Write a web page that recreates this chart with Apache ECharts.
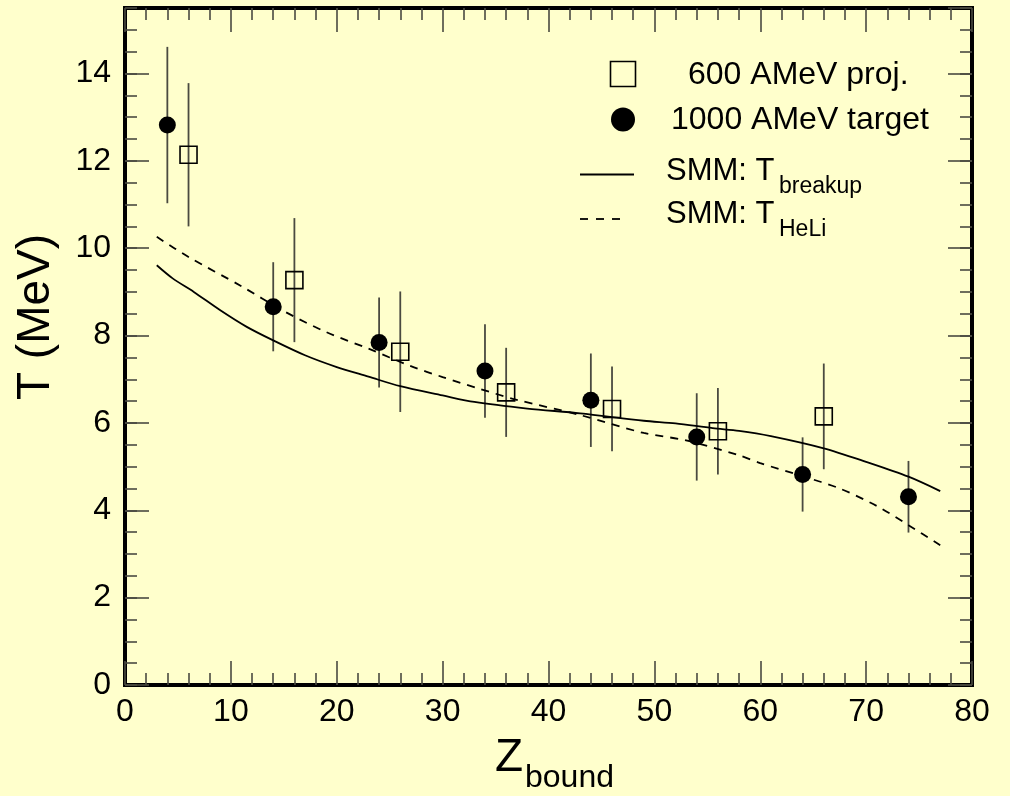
<!DOCTYPE html>
<html>
<head>
<meta charset="utf-8">
<script src="https://cdn.jsdelivr.net/npm/echarts@6/dist/echarts.min.js"></script>
<style>html,body{margin:0;padding:0;background:#ffffcc;}#chart{width:1010px;height:796px;}</style>
</head>
<body>
<div id="chart"></div>
<script>
// ---- data ----
const projZ   = [6, 16, 26, 36, 46, 56, 66];
const projT   = [12.14, 9.27, 7.63, 6.70, 6.32, 5.81, 6.15];
const projErr = [1.64, 1.42, 1.38, 1.02, 0.97, 0.99, 1.21];

const targZ   = [4, 14, 24, 34, 44, 54, 64, 74];
const targT   = [12.82, 8.66, 7.84, 7.19, 6.52, 5.68, 4.82, 4.31];
const targErr = [1.79, 1.02, 1.03, 1.07, 1.07, 1.0, 0.85, 0.82];

const breakupZ = [3, 4.5, 6.5, 9, 11.5, 14, 17, 20, 23, 26, 30, 33, 38, 43, 49, 52, 55.5, 58, 61, 66, 70, 74, 77];
const breakupT = [9.61, 9.31, 9.0, 8.58, 8.20, 7.89, 7.55, 7.28, 7.06, 6.84, 6.63, 6.48, 6.33, 6.22, 6.05, 5.99, 5.88, 5.82, 5.70, 5.42, 5.11, 4.77, 4.44];

const heliZ = [3, 6, 11, 15, 19, 23, 27, 30, 33.5, 37, 43, 49, 53, 58, 60, 64, 67.5, 71, 74, 77];
const heliT = [10.26, 9.80, 9.13, 8.56, 8.08, 7.70, 7.30, 7.05, 6.78, 6.53, 6.18, 5.77, 5.60, 5.26, 5.08, 4.78, 4.50, 4.10, 3.66, 3.20];

const xTicks = {min: 0, max: 80, interval: 10};
const yTicks = {min: 0, max: 15.5, major: 2, minor: 0.5};

const legendLabels = ['600 AMeV proj.', '1000 AMeV target', 'SMM: T', 'SMM: T'];
const legendSubs = ['breakup', 'HeLi'];
const xTitle = ['Z', 'bound'];
const yTitle = 'T (MeV)';

// ---- chart ----
const FONT = '"Liberation Sans", Arial, Helvetica, sans-serif';
const tickColor = '#4a4a40';
const chart = echarts.init(document.getElementById('chart'), null, {renderer: 'canvas'});

function xAxisDef(pos, labels) {
  return {
    type: 'value', position: pos, min: xTicks.min, max: xTicks.max, interval: xTicks.interval,
    axisLine: {show: true, onZero: false, lineStyle: {color: '#000', width: 4}},
    axisTick: {show: true, inside: true, length: 24, lineStyle: {color: tickColor, width: 1.6}},
    minorTick: {show: true, splitNumber: 5, length: 12, lineStyle: {color: tickColor, width: 1.6}},
    axisLabel: {show: labels, fontSize: 32, color: '#000', fontFamily: FONT, margin: 11},
    splitLine: {show: false}, minorSplitLine: {show: false}
  };
}
function yAxisDef(pos, interval, len, labels, line) {
  return {
    type: 'value', position: pos, min: yTicks.min, max: yTicks.max, interval: interval,
    axisLine: {show: line, onZero: false, lineStyle: {color: '#000', width: 4}},
    axisTick: {show: true, inside: true, length: len, lineStyle: {color: tickColor, width: 1.6}},
    axisLabel: {show: labels, fontSize: 32, color: '#000', fontFamily: FONT, margin: 14, showMaxLabel: false},
    splitLine: {show: false}
  };
}

function errData(xs, ys, es) {
  return xs.map((x, i) => [x, ys[i] - es[i], ys[i] + es[i]]);
}
function errSeries(xs, ys, es) {
  return {
    type: 'custom', xAxisIndex: 0, yAxisIndex: 0, z: 2, silent: true,
    data: errData(xs, ys, es),
    encode: {x: 0, y: [1, 2]},
    renderItem: function (params, api) {
      const p1 = api.coord([api.value(0), api.value(1)]);
      const p2 = api.coord([api.value(0), api.value(2)]);
      return {type: 'line', shape: {x1: p1[0], y1: p1[1], x2: p2[0], y2: p2[1]},
              style: {stroke: '#4a4a40', lineWidth: 1.8}};
    }
  };
}

const option = {
  backgroundColor: '#ffffcc',
  animation: false,
  grid: {left: 125, right: 38, top: 8, bottom: 111, containLabel: false, outerBoundsMode: 'none',
         show: true, borderColor: '#000', borderWidth: 4, backgroundColor: 'transparent'},
  xAxis: [xAxisDef('bottom', true), xAxisDef('top', false)],
  yAxis: [
    yAxisDef('left', yTicks.major, 24, true, true),
    yAxisDef('left', yTicks.minor, 12, false, false),
    yAxisDef('right', yTicks.major, 24, false, true),
    yAxisDef('right', yTicks.minor, 12, false, false)
  ],
  series: [
    errSeries(targZ, targT, targErr),
    errSeries(projZ, projT, projErr),
    {
      type: 'line', name: 'SMM: T breakup', z: 3, showSymbol: false, smooth: 0.3,
      data: breakupZ.map((x, i) => [x, breakupT[i]]),
      lineStyle: {color: '#000', width: 1.8}
    },
    {
      type: 'line', name: 'SMM: T HeLi', z: 3, showSymbol: false, smooth: 0.3,
      data: heliZ.map((x, i) => [x, heliT[i]]),
      lineStyle: {color: '#000', width: 1.8, type: [8, 7]}
    },
    {
      type: 'scatter', name: '1000 AMeV target', z: 4, symbol: 'circle', symbolSize: 17,
      data: targZ.map((x, i) => [x, targT[i]]),
      itemStyle: {color: '#000', opacity: 1}
    },
    {
      type: 'scatter', name: '600 AMeV proj.', z: 4, symbol: 'rect', symbolSize: 17,
      data: projZ.map((x, i) => [x, projT[i]]),
      itemStyle: {color: 'rgba(0,0,0,0)', borderColor: '#000', borderWidth: 1.6, opacity: 1}
    }
  ],
  graphic: [
    // legend
    {type: 'rect', shape: {x: 610.5, y: 61.5, width: 25, height: 25}, style: {fill: 'none', stroke: '#000', lineWidth: 1.6}},
    {type: 'circle', shape: {cx: 623, cy: 119.5, r: 12}, style: {fill: '#000'}},
    {type: 'line', shape: {x1: 580, y1: 174.5, x2: 634, y2: 174.5}, style: {stroke: '#000', lineWidth: 1.8}},
    {type: 'line', shape: {x1: 580, y1: 219, x2: 624, y2: 219}, style: {stroke: '#000', lineWidth: 1.8, lineDash: [8, 8]}},
    {type: 'text', x: 688, y: 75, style: {text: legendLabels[0], font: '32px ' + FONT, fill: '#000', textAlign: 'left', textVerticalAlign: 'middle'}},
    {type: 'text', x: 671, y: 120, style: {text: legendLabels[1], font: '32px ' + FONT, fill: '#000', textAlign: 'left', textVerticalAlign: 'middle'}},
    {type: 'text', x: 666, y: 171, style: {text: legendLabels[2], font: '31px ' + FONT, fill: '#000', textAlign: 'left', textVerticalAlign: 'middle'}},
    {type: 'text', x: 779, y: 187, style: {text: legendSubs[0], font: '23px ' + FONT, fill: '#000', textAlign: 'left', textVerticalAlign: 'middle'}},
    {type: 'text', x: 666, y: 214, style: {text: legendLabels[3], font: '31px ' + FONT, fill: '#000', textAlign: 'left', textVerticalAlign: 'middle'}},
    {type: 'text', x: 779, y: 230, style: {text: legendSubs[1], font: '23px ' + FONT, fill: '#000', textAlign: 'left', textVerticalAlign: 'middle'}},
    // axis titles
    {type: 'text', x: 495, y: 758, style: {text: xTitle[0], font: '46px ' + FONT, fill: '#000', textAlign: 'left', textVerticalAlign: 'middle'}},
    {type: 'text', x: 525, y: 778, style: {text: xTitle[1], font: '32px ' + FONT, fill: '#000', textAlign: 'left', textVerticalAlign: 'middle'}},
    {type: 'text', x: 36, y: 317, rotation: Math.PI / 2, style: {text: yTitle, font: '46px ' + FONT, fill: '#000', textAlign: 'center', textVerticalAlign: 'middle'}}
  ]
};
chart.setOption(option);
</script>
</body>
</html>
